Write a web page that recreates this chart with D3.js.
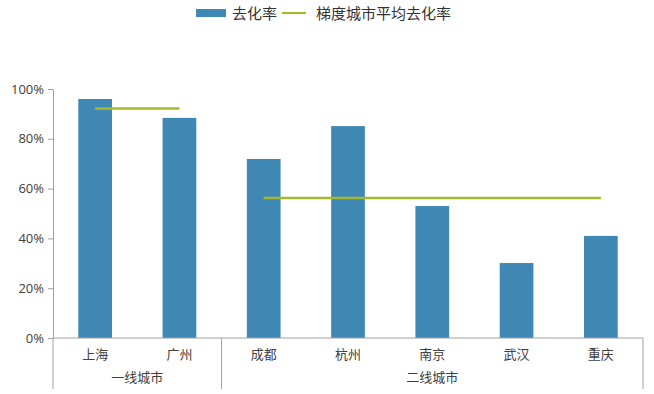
<!DOCTYPE html>
<html><head><meta charset="utf-8">
<script src="https://cdn.jsdelivr.net/npm/d3@7"></script>
<style>body{margin:0;background:#fff}svg{display:block}</style>
</head><body>
<script>
const categories = ["上海","广州","成都","杭州","南京","武汉","重庆"];
const tiers = ["一线城市","一线城市","二线城市","二线城市","二线城市","二线城市","二线城市"];
const rates = [96, 88.4, 71.9, 85.1, 53.0, 30.1, 41.0];
const tierAverages = [{tier:"一线城市", value:92.2},{tier:"二线城市", value:56.2}];
const yTicks = [0,20,40,60,80,100];
const seriesNames = ["去化率","梯度城市平均去化率"];

const W=654,H=394;
const barColor="#3f88b3", lineColor="#a4b82c", axisColor="#a0a0a0", textColor="#404040";
const font="'Noto Sans CJK SC', 'Open Sans', sans-serif";
const svg=d3.select("body").append("svg").attr("width",W).attr("height",H);

const x=d3.scaleBand().domain(categories).range([53,643]).paddingInner(0.6).paddingOuter(0.3);
const y=d3.scaleLinear().domain([0,100]).range([338,89]);

// y axis
const ya=svg.append("g").attr("transform","translate(53,0)")
  .call(d3.axisLeft(y).tickValues(yTicks).tickFormat(d=>d+"%").tickSize(5).tickSizeOuter(0));
ya.select(".domain").attr("stroke",axisColor);
ya.selectAll(".tick line").attr("stroke",axisColor);
ya.selectAll(".tick text").attr("font-family","'Open Sans', sans-serif").attr("font-size",13).attr("fill",textColor).attr("x",-9);

// bars
svg.append("g").selectAll("rect").data(categories).join("rect")
  .attr("x",d=>x(d)).attr("width",x.bandwidth())
  .attr("y",(d,i)=>y(rates[i])).attr("height",(d,i)=>y(0)-y(rates[i]))
  .attr("fill",barColor);

// average lines
tierAverages.forEach(t=>{
  const cats=categories.filter((c,i)=>tiers[i]===t.tier);
  const x1=x(cats[0])+x.bandwidth()/2, x2=x(cats[cats.length-1])+x.bandwidth()/2;
  svg.append("line").attr("x1",x1).attr("x2",x2).attr("y1",y(t.value)).attr("y2",y(t.value))
    .attr("stroke",lineColor).attr("stroke-width",2.5);
});

// x axis
svg.append("line").attr("x1",53).attr("x2",643).attr("y1",y(0)).attr("y2",y(0)).attr("stroke",axisColor);
const step=x.step();
const groupNames=[...new Set(tiers)];
const bounds=[53];
groupNames.forEach(g=>{
  const cats=categories.filter((c,i)=>tiers[i]===g);
  const last=cats[cats.length-1];
  bounds.push(x(last)+x.bandwidth()/2+step/2);
});
bounds.forEach(b=>{
  svg.append("line").attr("x1",b).attr("x2",b).attr("y1",y(0)).attr("y2",389).attr("stroke",axisColor);
});
svg.append("g").selectAll("text").data(categories).join("text")
  .attr("x",d=>x(d)+x.bandwidth()/2).attr("y",359).attr("text-anchor","middle")
  .attr("font-family",font).attr("font-size",13).attr("fill",textColor).text(d=>d);
groupNames.forEach((g,i)=>{
  svg.append("text").attr("x",(bounds[i]+bounds[i+1])/2).attr("y",382).attr("text-anchor","middle")
    .attr("font-family",font).attr("font-size",13).attr("fill",textColor).text(g);
});

// legend
const lg=svg.append("g");
lg.append("rect").attr("x",196).attr("y",9).attr("width",30).attr("height",8).attr("fill",barColor);
lg.append("text").attr("x",232).attr("y",18.5).attr("font-family",font).attr("font-size",15).attr("fill","#333").text(seriesNames[0]);
lg.append("line").attr("x1",282).attr("x2",306).attr("y1",13).attr("y2",13).attr("stroke",lineColor).attr("stroke-width",2);
lg.append("text").attr("x",316).attr("y",18.5).attr("font-family",font).attr("font-size",15).attr("fill","#333").text(seriesNames[1]);
</script>
</body></html>
